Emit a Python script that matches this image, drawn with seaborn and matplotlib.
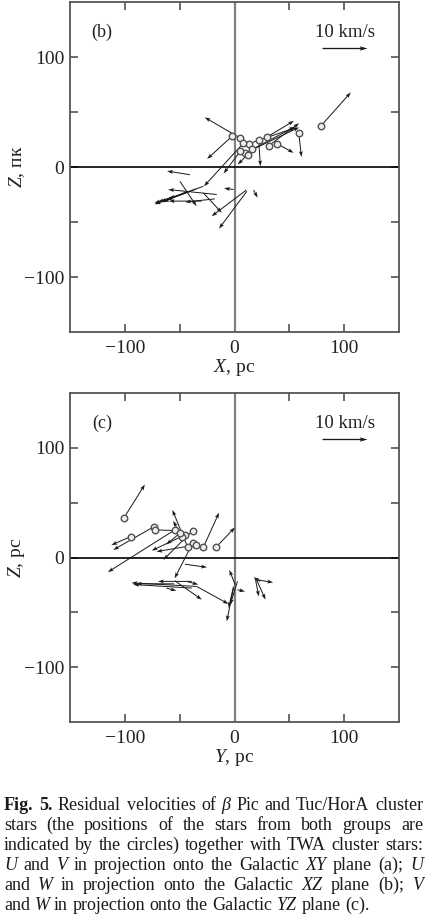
import numpy as np
import pandas as pd
import seaborn as sns
import matplotlib
matplotlib.use("Agg")
import matplotlib.pyplot as plt

# ---------------- data ----------------
# panel (b): X, Z positions (pc), U, W residual velocities (km/s), circle flag
b_x = [79, 58.6, 38.8, 31.1, 29.6, 22, 12.8, 9.8, 5.2, -2.4, 5.2, 8.2, 11.9, 16,
       -40.6, -28.4, -35, -40, -49.8, -28.4, -16.2, -18, -30, 11.3, 10.7, -0.9, 17.4, -45, -55, -58]
b_z = [37.5, 30.8, 21.1, 19.3, 27.2, 24.8, 21.1, 12.7, 26.3, 27.8, 14.2, 21.8, 11.2, 16,
       -7, -17.5, -20, -22, -13, -23.6, -25, -29, -31, -22, -21, -20.5, -21, -23, -26, -28]
b_u = [6.6, 0.6, 3.7, 6.8, 6.0, 0.4, 10.5, 12.0, -7.9, -5.5, -3.7, -8.8, -2.2, 9.5,
       -5.1, -10.8, -8.5, -5.4, 3.7, 4.1, -10.8, -6.6, -7.3, -6.2, -7.7, -2.1, 0.9, -4.9, -3.0, -3.7]
b_w = [7.4, -5.3, -2.0, 5.0, 3.6, -5.9, 3.6, 5.7, 4.6, -5.0, -4.9, -9.6, -2.2, 5.0,
       0.8, -4.0, -2.9, -2.0, -5.5, -4.4, 1.1, -0.7, 0.0, -8.3, -5.8, 0.3, -1.7, -2.2, -1.5, -1.2]
b_circle = [1] * 14 + [0] * 16

# panel (c): Y, Z positions (pc), V, W residual velocities (km/s), circle flag
c_y = [-101, -94.7, -73.3, -72.7, -54.4, -45.2, -38.2, -42.7, -38.2, -35.1, -28.4, -16.8, -48.2, -50,
       -45.2, -54.4, -34.5, -39, -39, -62, -34.5, -43.7, -0.9, 0.6, -0.9, 2.7, 2.7, 20.5, 20.5, 18.9, 23.5, -55]
c_z = [35.8, 19.1, 28.2, 25.2, 25.2, 20.6, 24.5, 9.4, 13, 11.5, 9.4, 9.4, 19.1, 22,
       -6.1, -21.2, -26.4, -27.9, -21.8, -27.9, -26.4, -21.8, -27.9, -24.8, -26.4, -21.8, -29.4, -20.3, -21.2, -18.8, -21.8, -24]
c_v = [4.7, -4.3, -9.1, 5.6, -14.9, -7.4, -6.5, -3.4, -4.0, -8.8, 3.5, 4.2, -1.9, -3.0,
       4.9, 6.0, -14.5, -13.0, -7.5, 2.2, 7.1, 2.6, -1.5, -1.3, -1.1, -1.6, 1.7, 3.6, 1.9, 0.8, -1.5, -8.5]
c_w = [7.5, -1.9, -5.2, -0.2, -9.4, -3.5, -6.5, 8.3, -7.8, -1.5, 7.7, 4.4, 3.5, -2.5,
       -0.7, -4.2, 0.8, 0.8, 0.0, -0.6, -3.9, -0.7, -7.4, 3.3, -4.8, -5.2, -0.4, -0.6, -4.2, -4.1, 0.9, 0.0]
c_circle = [1] * 14 + [0] * 18

scale_kms = 10            # reference arrow, km/s
pc_per_kms = 4.1          # arrow length scale
ticks = [-100, -50, 0, 50, 100]
tick_labels = ["\u2212100", "", "0", "", "100"]

# ---------------- style ----------------
sns.set_theme(style="ticks")
plt.rcParams["font.family"] = ["Liberation Serif", "DejaVu Serif"]
plt.rcParams["mathtext.fontset"] = "custom"
plt.rcParams["mathtext.rm"] = "Liberation Serif"
plt.rcParams["mathtext.it"] = "Liberation Serif:italic"
plt.rcParams["mathtext.bf"] = "Liberation Serif:bold"

W, H = 425, 918
fig = plt.figure(figsize=(W / 100, H / 100), dpi=100)
fig.patch.set_facecolor("white")

axb = fig.add_axes([70 / W, 1 - 332 / H, 329 / W, 330 / H])
axc = fig.add_axes([70 / W, 1 - 722 / H, 329 / W, 329 / H])


def panel(ax, h, v, vh, vv, circ, tag, xlabel, ylabel):
    df = pd.DataFrame({"h": h, "v": v, "vh": vh, "vv": vv, "circ": circ})
    ax.axvline(0, color="#808080", lw=1.6, zorder=1)
    ax.axhline(0, color="black", lw=1.2, zorder=1)
    ax.quiver(df["h"], df["v"], df["vh"], df["vv"], angles="xy", scale_units="xy",
              scale=1 / pc_per_kms, width=0.0030, headwidth=4.0, headlength=6,
              headaxislength=5, color="#1a1a1a", zorder=3)
    sns.scatterplot(data=df[df["circ"] == 1], x="h", y="v", marker="o", s=22,
                    color="#eeeeee", edgecolor="#505050", linewidth=1.0, ax=ax,
                    zorder=4, legend=False)
    # reference arrow
    ax.quiver([80], [108], [scale_kms], [0], angles="xy", scale_units="xy",
              scale=1 / pc_per_kms, width=0.0040, headwidth=3.5, headlength=6,
              headaxislength=5, color="#1a1a1a", zorder=3)
    ax.text(101, 122, "10 km/s", fontsize=13.5, ha="center", va="center", color="#222")
    ax.text(-121, 122, tag, fontsize=13, ha="center", va="center", color="#222")

    ax.set_xlim(-150, 150)
    ax.set_ylim(-150, 150)
    ax.set_xticks(ticks)
    ax.set_xticklabels(tick_labels)
    ax.set_yticks(ticks)
    ax.set_yticklabels(tick_labels)
    ax.tick_params(direction="in", length=6, width=1.1, top=True, right=True,
                   labelsize=14, color="#444444", labelcolor="#222")
    ax.tick_params(axis="x", pad=6)
    ax.tick_params(axis="y", pad=4)
    for s in ax.spines.values():
        s.set_color("#555555")
        s.set_linewidth(1.3)
    ax.set_xlabel(xlabel, fontsize=14, labelpad=0, color="#222")
    ax.set_ylabel(ylabel, fontsize=14, labelpad=-2, color="#222")


panel(axb, b_x, b_z, b_u, b_w, b_circle, "(b)", "$X$, pc", "$Z$, пк")
panel(axc, c_y, c_z, c_v, c_w, c_circle, "(c)", "$Y$, pc", "$Z$, pc")

# ---------------- caption (justified) ----------------
R, I, B = "r", "i", "b"
caption_lines = [
    [("Fig.", B), ("5.", B), ("Residual", R), ("velocities", R), ("of", R), ("β", I),
     ("Pic", R), ("and", R), ("Tuc/HorA", R), ("cluster", R)],
    [("stars", R), ("(the", R), ("positions", R), ("of", R), ("the", R), ("stars", R),
     ("from", R), ("both", R), ("groups", R), ("are", R)],
    [("indicated", R), ("by", R), ("the", R), ("circles)", R), ("together", R), ("with", R),
     ("TWA", R), ("cluster", R), ("stars:", R)],
    [("U", I), ("and", R), ("V", I), ("in", R), ("projection", R), ("onto", R), ("the", R),
     ("Galactic", R), ("XY", I), ("plane", R), ("(a);", R), ("U", I)],
    [("and", R), ("W", I), ("in", R), ("projection", R), ("onto", R), ("the", R),
     ("Galactic", R), ("XZ", I), ("plane", R), ("(b);", R), ("V", I)],
    [("and", R), ("W", I), ("in", R), ("projection", R), ("onto", R), ("the", R),
     ("Galactic", R), ("YZ", I), ("plane", R), ("(c).", R)],
]
baselines = [810, 830, 850, 870, 890, 910]
x0, x1 = 4, 423

renderer = fig.canvas.get_renderer()


def make_word(word, style, fs):
    kw = dict(fontsize=fs, color="#1a1a1a", va="baseline", ha="left")
    if style == I:
        kw["fontstyle"] = "italic"
    if style == B:
        kw["fontweight"] = "bold"
    return fig.text(0, 0, word, **kw)


fs0 = 13.0
need = 0
for line in caption_lines:
    tw = [make_word(w, s, fs0) for w, s in line]
    widths = [t.get_window_extent(renderer).width for t in tw]
    for t in tw:
        t.remove()
    need = max(need, (sum(widths) + 0.12 * fs0 * 100 / 72 * (len(line) - 1)) / (x1 - x0))
fs = fs0 / max(need, 1.0)

for li, line in enumerate(caption_lines):
    tw = [make_word(w, s, fs) for w, s in line]
    widths = [t.get_window_extent(renderer).width for t in tw]
    if li < len(caption_lines) - 1:
        gap = (x1 - x0 - sum(widths)) / (len(line) - 1)
    else:
        gap = 0.25 * fs * 100 / 72
    x = x0
    for t, wdt in zip(tw, widths):
        t.set_position((x / W, 1 - baselines[li] / H))
        x += wdt + gap

fig.savefig("out.png", dpi=100, facecolor="white")
